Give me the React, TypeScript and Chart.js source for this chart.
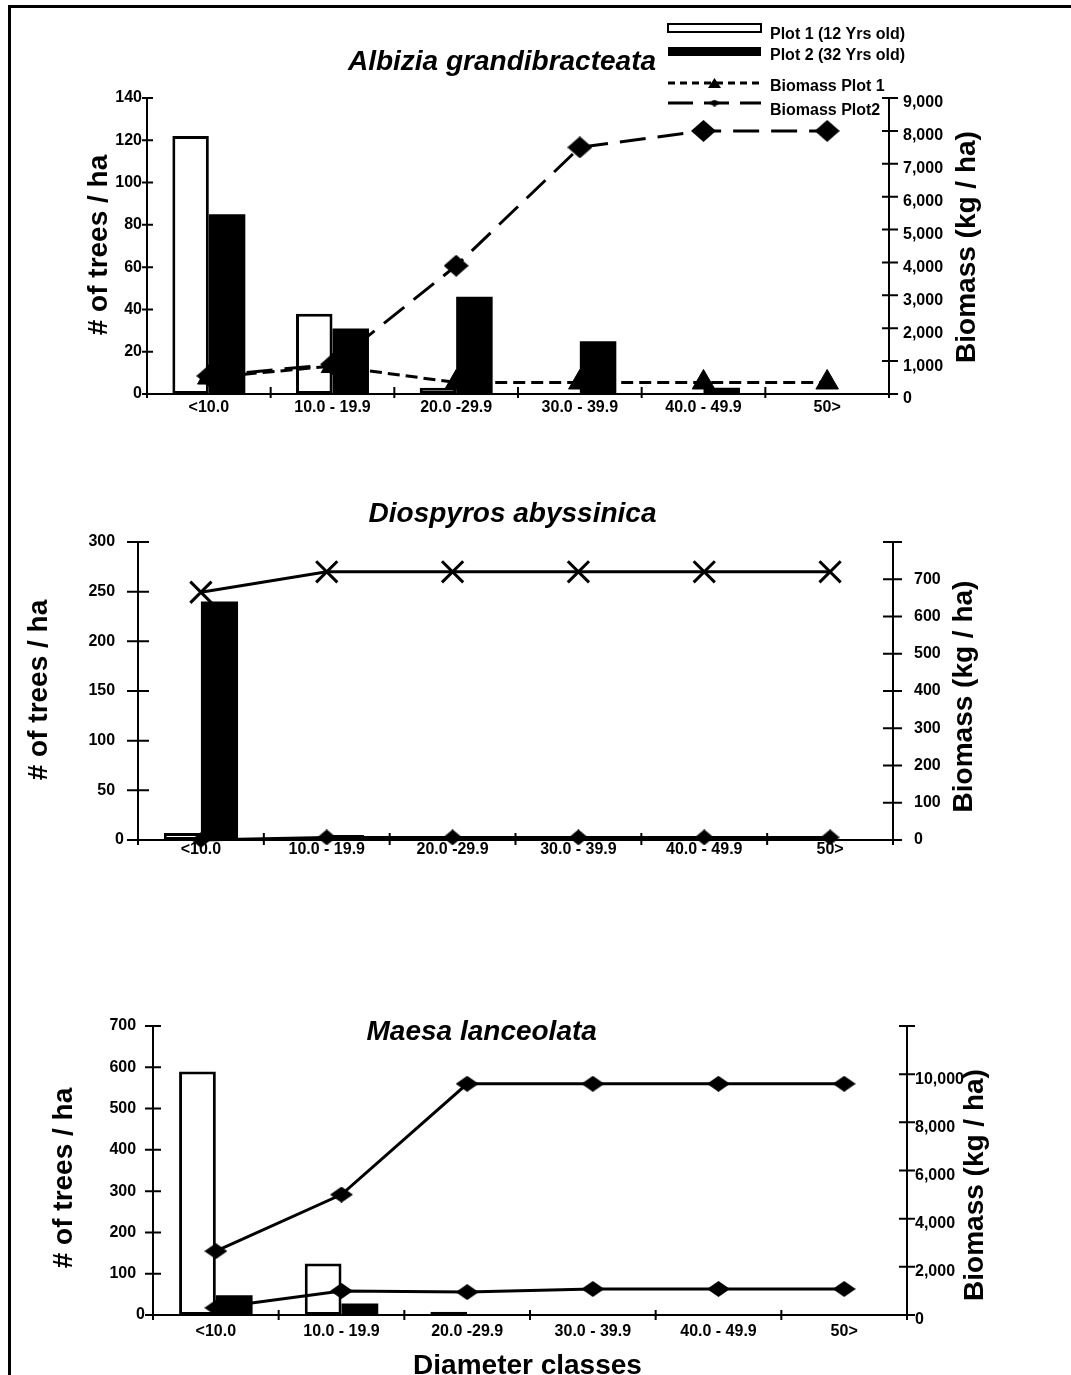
import React, { useEffect, useRef } from 'react';
import { Chart, registerables } from 'chart.js';

Chart.register(...registerables);

const FONT = '"Liberation Sans", Arial, Helvetica, sans-serif';
const W = 1071;

// ---------- data ----------
const categories = ['<10.0', '10.0 - 19.9', '20.0 -29.9', '30.0 - 39.9', '40.0 - 49.9', '50>'];
const legendLabels = ['Plot 1 (12 Yrs old)', 'Plot 2 (32 Yrs old)', 'Biomass Plot 1', 'Biomass Plot2'];

// Albizia grandibracteata
const albiziaTreesPlot1 = [122, 38, 3, 0, 0, 0];
const albiziaTreesPlot2 = [85, 31, 46, 25, 3, 0];
const albiziaBiomassPlot1 = [500, 850, 350, 350, 350, 350];
const albiziaBiomassPlot2 = [550, 900, 3900, 7500, 8000, 8000];
const albiziaTreeAxis = [0, 140, 20];
const albiziaBiomassAxis = [0, 9000, 1000];

// Diospyros abyssinica
const diospyrosTreesPlot1 = [7, 0, 0, 0, 0, 0];
const diospyrosTreesPlot2 = [240, 5, 0, 0, 0, 0];
const diospyrosBiomassPlot1 = [0, 7, 7, 7, 7, 7];
const diospyrosBiomassPlot2 = [665, 720, 720, 720, 720, 720];
const diospyrosTreeAxis = [0, 300, 50];
const diospyrosBiomassAxis = [0, 800, 100];

// Maesa lanceolata
const maesaTreesPlot1 = [590, 125, 8, 0, 0, 0];
const maesaTreesPlot2 = [48, 28, 0, 2, 0, 0];
const maesaBiomassPlot1 = [2650, 5000, 9600, 9600, 9600, 9600];
const maesaBiomassPlot2 = [300, 1000, 950, 1080, 1080, 1080];
const maesaTreeAxis = [0, 700, 100];
const maesaBiomassAxis = [0, 12000, 2000];

// ---------- helpers ----------
function diamond(w: number, h: number) {
  const c = document.createElement('canvas');
  c.width = w;
  c.height = h;
  const g = c.getContext('2d')!;
  g.fillStyle = '#000';
  g.beginPath();
  g.moveTo(w / 2, 0);
  g.lineTo(w, h / 2);
  g.lineTo(w / 2, h);
  g.lineTo(0, h / 2);
  g.closePath();
  g.fill();
  return c;
}

function drawText(ctx: CanvasRenderingContext2D, s: string, x: number, y: number, size: number, o: any = {}) {
  ctx.save();
  ctx.font = `${o.italic ? 'italic ' : ''}bold ${size}px ${FONT}`;
  ctx.fillStyle = '#000';
  ctx.textAlign = o.align || 'center';
  ctx.textBaseline = o.baseline || 'alphabetic';
  ctx.translate(x, y);
  if (o.rotate) ctx.rotate(-Math.PI / 2);
  ctx.fillText(s, 0, 0);
  ctx.restore();
}

const fmt = (v: number) => Number(v).toLocaleString('en-US');

function axisPlugin(t: { y: number[]; y1: number[]; x: number[] }) {
  return {
    id: 'axisMarks',
    afterDraw(chart: any) {
      const { ctx, chartArea: ca } = chart;
      const xs = chart.scales.x, ys = chart.scales.y, y1s = chart.scales.y1;
      ctx.save();
      ctx.strokeStyle = '#000';
      ctx.lineWidth = 2;
      ctx.beginPath();
      ctx.moveTo(ca.left, ca.top);
      ctx.lineTo(ca.left, ca.bottom);
      ctx.moveTo(ca.right, ca.top);
      ctx.lineTo(ca.right, ca.bottom);
      ctx.moveTo(ca.left, ca.bottom);
      ctx.lineTo(ca.right, ca.bottom);
      ys.ticks.forEach((k: any) => {
        const py = ys.getPixelForValue(k.value);
        ctx.moveTo(ca.left - t.y[0], py);
        ctx.lineTo(ca.left + t.y[1], py);
      });
      y1s.ticks.forEach((k: any) => {
        const py = y1s.getPixelForValue(k.value);
        ctx.moveTo(ca.right - t.y1[0], py);
        ctx.lineTo(ca.right + t.y1[1], py);
      });
      const n = xs.ticks.length;
      for (let i = 0; i <= n; i++) {
        const px = xs.left + (i * xs.width) / n;
        ctx.moveTo(px, ca.bottom - t.x[0]);
        ctx.lineTo(px, ca.bottom + t.x[1]);
      }
      ctx.stroke();
      ctx.restore();
    },
  };
}

function buildConfig(p: any) {
  const tickFont = { family: FONT, size: 16, weight: 'bold' as const };
  return {
    type: 'bar',
    data: {
      labels: categories,
      datasets: [
        {
          type: 'line', label: legendLabels[2], data: p.bio1, yAxisID: 'y1', order: 0,
          borderColor: '#000', borderWidth: 3, borderDash: p.dash1, tension: 0, fill: false, clip: false,
          pointStyle: p.pt1, pointRadius: p.pr1, pointBackgroundColor: '#000', pointBorderColor: '#000',
          pointBorderWidth: p.pbw1,
        },
        {
          type: 'line', label: legendLabels[3], data: p.bio2, yAxisID: 'y1', order: 0,
          borderColor: '#000', borderWidth: 3, borderDash: p.dash2, tension: 0, fill: false, clip: false,
          pointStyle: p.pt2, pointRadius: p.pr2, pointBackgroundColor: '#000', pointBorderColor: '#000',
          pointBorderWidth: p.pbw2,
        },
        {
          type: 'bar', label: legendLabels[0], data: p.trees1, yAxisID: 'y', order: 2,
          backgroundColor: '#fff', borderColor: '#000', borderWidth: 3, borderSkipped: false,
          categoryPercentage: p.catPct, barPercentage: 1,
        },
        {
          type: 'bar', label: legendLabels[1], data: p.trees2, yAxisID: 'y', order: 2,
          backgroundColor: '#000', borderColor: '#000', borderWidth: 0,
          categoryPercentage: p.catPct, barPercentage: 1,
        },
      ],
    },
    options: {
      responsive: false,
      animation: false,
      devicePixelRatio: 1,
      locale: 'en-US',
      events: [],
      layout: { padding: { left: 0, right: 0, top: p.ca.t, bottom: 0 } },
      plugins: { legend: { display: false }, tooltip: { enabled: false }, title: { display: false } },
      scales: {
        x: {
          type: 'category', offset: true,
          grid: { display: false, drawTicks: false }, border: { display: false },
          ticks: { font: tickFont, color: '#000', padding: p.xPad, maxRotation: 0, minRotation: 0, autoSkip: false },
          afterFit: (s: any) => { s.height = p.H - p.ca.b; },
        },
        y: {
          type: 'linear', position: 'left', min: p.yAxis[0], max: p.yAxis[1],
          grid: { display: false, drawTicks: false }, border: { display: false },
          ticks: {
            stepSize: p.yAxis[2], font: tickFont, color: '#000', padding: p.yPad,
            callback: (v: number) => (p.zeroHack && v !== 0 ? `${fmt(v)}  ` : fmt(v)),
          },
          afterFit: (s: any) => { s.width = p.ca.l; },
        },
        y1: {
          type: 'linear', position: 'right', min: p.y1Axis[0], max: p.y1Axis[1],
          grid: { display: false, drawTicks: false }, border: { display: false },
          ticks: {
            stepSize: p.y1Axis[2], font: tickFont, color: '#000', padding: p.y1Pad,
            labelOffset: p.y1LabelOffset,
            callback: (v: number) => (p.hideMax && v === p.y1Axis[1] ? '' : fmt(v)),
          },
          afterFit: (s: any) => { s.width = W - p.ca.r; },
        },
      },
    },
    plugins: [axisPlugin(p.ticks), { id: 'decor', afterDraw: (chart: any) => p.decor(chart.ctx, chart.chartArea) }],
  };
}

const panels: any[] = [
  {
    top: 0, H: 460, ca: { l: 147, r: 889, t: 98, b: 394 },
    trees1: albiziaTreesPlot1, trees2: albiziaTreesPlot2, bio1: albiziaBiomassPlot1, bio2: albiziaBiomassPlot2,
    yAxis: albiziaTreeAxis, y1Axis: albiziaBiomassAxis,
    yPad: 5, y1Pad: 14, y1LabelOffset: 5, xPad: 4, zeroHack: false, hideMax: false, catPct: 0.59,
    dash1: [12, 6], dash2: [26, 12],
    pt1: 'triangle', pr1: 13, pbw1: 1,
    pt2: diamond(25, 22), pr2: 12, pbw2: 0,
    ticks: { y: [5, 6], y1: [7, 9], x: [7, 4] },
    decor: (ctx: CanvasRenderingContext2D, ca: any) => {
      const mid = (ca.top + ca.bottom) / 2;
      drawText(ctx, 'Albizia grandibracteata', ca.left + 355, ca.top - 28, 28, { italic: true });
      drawText(ctx, '# of trees / ha', ca.left - 40, mid - 1, 28, { rotate: true });
      drawText(ctx, 'Biomass (kg / ha)', ca.right + 86, mid + 1, 28, { rotate: true });
      // legend
      const x0 = ca.right - 221, x1 = x0 + 93, tx = x1 + 9;
      ctx.save();
      ctx.fillStyle = '#fff';
      ctx.strokeStyle = '#000';
      ctx.lineWidth = 2;
      ctx.fillRect(x0, 24, 93, 8);
      ctx.strokeRect(x0, 24, 93, 8);
      ctx.fillStyle = '#000';
      ctx.fillRect(x0, 47, 93, 9);
      ctx.lineWidth = 3;
      ctx.setLineDash([7, 5]);
      ctx.beginPath();
      ctx.moveTo(x0, 83);
      ctx.lineTo(x1, 83);
      ctx.stroke();
      ctx.setLineDash([25, 11]);
      ctx.beginPath();
      ctx.moveTo(x0, 103);
      ctx.lineTo(x1, 103);
      ctx.stroke();
      ctx.setLineDash([]);
      const cx = (x0 + x1) / 2;
      ctx.beginPath();
      ctx.moveTo(cx, 78);
      ctx.lineTo(cx + 6.5, 88);
      ctx.lineTo(cx - 6.5, 88);
      ctx.closePath();
      ctx.fill();
      ctx.drawImage(diamond(12, 7), cx - 6, 99.5);
      ctx.restore();
      drawText(ctx, legendLabels[0], tx, 38.5, 16, { align: 'left' });
      drawText(ctx, legendLabels[1], tx, 60, 16, { align: 'left' });
      drawText(ctx, legendLabels[2], tx, 91, 16, { align: 'left' });
      drawText(ctx, legendLabels[3], tx, 114.5, 16, { align: 'left' });
    },
  },
  {
    top: 460, H: 440, ca: { l: 138, r: 893, t: 82, b: 380 },
    trees1: diospyrosTreesPlot1, trees2: diospyrosTreesPlot2, bio1: diospyrosBiomassPlot1, bio2: diospyrosBiomassPlot2,
    yAxis: diospyrosTreeAxis, y1Axis: diospyrosBiomassAxis,
    yPad: 14, y1Pad: 21, y1LabelOffset: 0, xPad: 0, zeroHack: true, hideMax: true, catPct: 0.59,
    dash1: [], dash2: [],
    pt1: diamond(19, 16), pr1: 9, pbw1: 0,
    pt2: 'crossRot', pr2: 15, pbw2: 3,
    ticks: { y: [11, 11], y1: [10, 9], x: [7, 5] },
    decor: (ctx: CanvasRenderingContext2D, ca: any) => {
      const mid = (ca.top + ca.bottom) / 2;
      drawText(ctx, 'Diospyros abyssinica', ca.left + 374.5, ca.top - 20, 28, { italic: true });
      drawText(ctx, '# of trees / ha', ca.left - 91, mid - 1, 28, { rotate: true });
      drawText(ctx, 'Biomass (kg / ha)', ca.right + 79, mid + 5.5, 28, { rotate: true });
    },
  },
  {
    top: 900, H: 475, ca: { l: 153, r: 907, t: 126, b: 415 },
    trees1: maesaTreesPlot1, trees2: maesaTreesPlot2, bio1: maesaBiomassPlot1, bio2: maesaBiomassPlot2,
    yAxis: maesaTreeAxis, y1Axis: maesaBiomassAxis,
    yPad: 8, y1Pad: 8, y1LabelOffset: 5, xPad: 7, zeroHack: true, hideMax: true, catPct: 0.585,
    dash1: [], dash2: [],
    pt1: diamond(23, 16), pr1: 11, pbw1: 0,
    pt2: diamond(23, 16), pr2: 11, pbw2: 0,
    ticks: { y: [8, 8], y1: [8, 8], x: [5, 5] },
    decor: (ctx: CanvasRenderingContext2D, ca: any) => {
      const mid = (ca.top + ca.bottom) / 2;
      drawText(ctx, 'Maesa lanceolata', ca.left + 328.7, ca.top + 14, 28, { italic: true });
      drawText(ctx, '# of trees / ha', ca.left - 81, mid + 7.5, 28, { rotate: true });
      drawText(ctx, 'Biomass (kg / ha)', ca.right + 76, mid + 14.5, 28, { rotate: true });
      drawText(ctx, 'Diameter classes', ca.left + 374.5, ca.bottom + 59, 28);
    },
  },
];

function Panel({ spec }: { spec: any }) {
  const ref = useRef<HTMLCanvasElement>(null);
  useEffect(() => {
    const chart = new Chart(ref.current as HTMLCanvasElement, buildConfig(spec) as any);
    return () => chart.destroy();
  }, [spec]);
  return (
    <canvas
      ref={ref}
      width={W}
      height={spec.H}
      style={{ position: 'absolute', left: 0, top: spec.top, width: W, height: spec.H, display: 'block' }}
    />
  );
}

export default function App() {
  return (
    <div style={{ position: 'fixed', left: 0, top: 0, width: W, height: 1375, overflow: 'hidden', background: '#fff' }}>
      <div
        style={{
          position: 'absolute', left: 8, top: 5, width: 1100, height: 1420,
          border: '3px solid #000', boxSizing: 'border-box',
        }}
      />
      {panels.map((p, i) => (
        <Panel key={i} spec={p} />
      ))}
    </div>
  );
}
